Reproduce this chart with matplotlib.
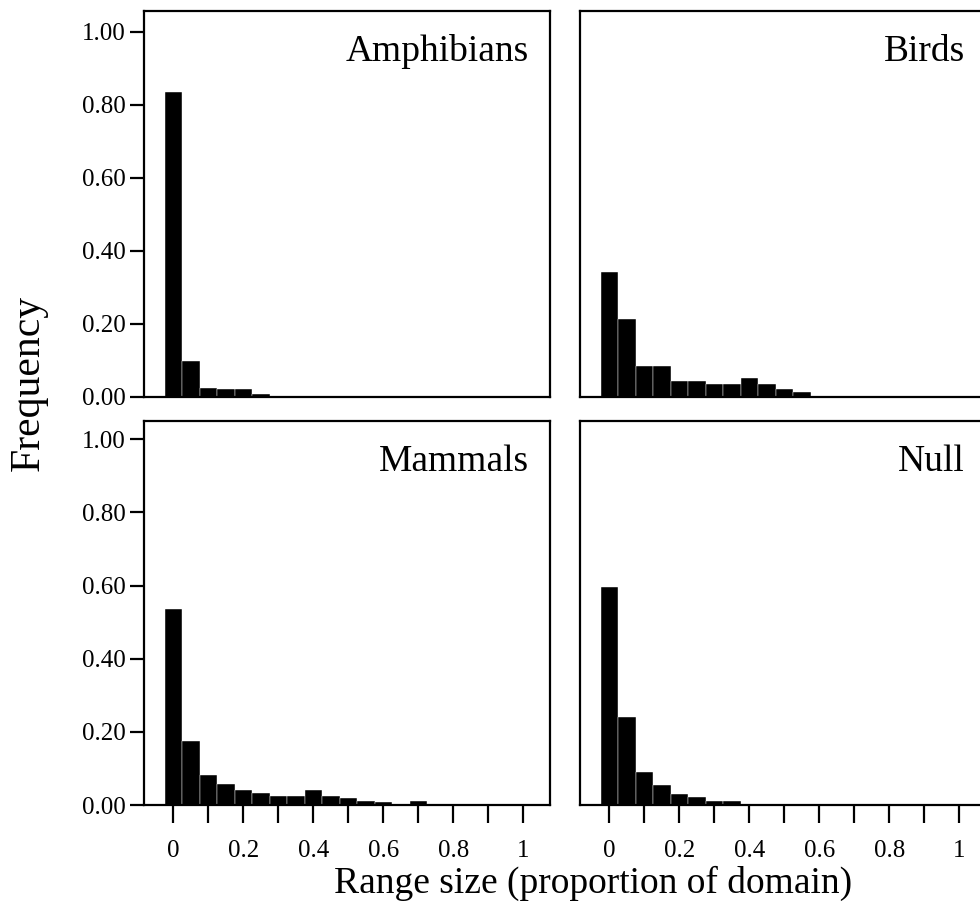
import numpy as np
import matplotlib
matplotlib.use("Agg")
import matplotlib.pyplot as plt

plt.rcParams['font.family'] = ['Liberation Serif', 'DejaVu Serif']

# bin centres (proportion of domain) and frequencies per group
centres = np.round(np.arange(0, 1.0001, 0.05), 2)
amphibians = [0.836, 0.099, 0.025, 0.021, 0.021, 0.009, 0.002, 0.002, 0.002, 0.002, 0.001,
              0.001, 0.001, 0.001, 0.001, 0.001, 0.001, 0.001, 0.001, 0.001, 0.001]
birds = [0.342, 0.213, 0.084, 0.084, 0.044, 0.044, 0.036, 0.036, 0.053, 0.035, 0.023,
         0.014, 0.004, 0.003, 0.002, 0.002, 0.002, 0.002, 0.002, 0.003, 0.002]
mammals = [0.535, 0.176, 0.081, 0.057, 0.041, 0.034, 0.026, 0.026, 0.041, 0.026, 0.018,
           0.011, 0.009, 0.004, 0.011, 0.004, 0.004, 0.003, 0.003, 0.003, 0.003]
null = [0.596, 0.240, 0.090, 0.054, 0.030, 0.021, 0.011, 0.010, 0.004, 0.004, 0.003,
        0.003, 0.003, 0.003, 0.003, 0.003, 0.003, 0.003, 0.003, 0.003, 0.003]

names = ["Amphibians", "Birds", "Mammals", "Null"]
series = [amphibians, birds, mammals, null]
yticks = [0, 0.2, 0.4, 0.6, 0.8, 1.0]
xticks = np.round(np.arange(0, 1.0001, 0.1), 1)
xlabels = ["0", "", "0.2", "", "0.4", "", "0.6", "", "0.8", "", "1"]

fig = plt.figure(figsize=(9.8, 9.08), dpi=100)

# panel boxes in figure fraction: left, bottom, width, height
boxes = [
    [0.1469, 0.5628, 0.4143, 0.4251],
    [0.5918, 0.5628, 0.4143, 0.4251],
    [0.1469, 0.1134, 0.4143, 0.4229],
    [0.5918, 0.1134, 0.4143, 0.4229],
]
ytops = [1.057, 1.057, 1.05, 1.05]

for k in range(4):
    ax = fig.add_axes(boxes[k])
    ax.bar(centres, series[k], width=0.05, color="black", edgecolor="white", linewidth=0.3)
    ax.set_xlim(-0.084, 1.076)
    ax.set_ylim(0, ytops[k])
    for s in ax.spines.values():
        s.set_linewidth(1.6)
    ax.text(0.948, 0.87, names[k], transform=ax.transAxes, ha="right", va="baseline",
            fontsize=27)

    # y axis only on the left column
    if k % 2 == 0:
        ax.set_yticks(yticks)
        ax.set_yticklabels(["%.2f" % v for v in yticks])
        ax.tick_params(axis="y", length=10, width=1.6, pad=3, labelsize=18)
    else:
        ax.set_yticks([])

    # x axis only on the bottom row
    if k >= 2:
        ax.set_xticks(xticks)
        ax.set_xticklabels(xlabels)
        ax.tick_params(axis="x", length=13, width=1.6, pad=12, labelsize=18)
    else:
        ax.set_xticks([])

fig.text(0.029, 0.578, "Frequency", rotation=90, ha="center", va="center", fontsize=30)
fig.text(0.605, 0.027, "Range size (proportion of domain)", ha="center", va="center",
         fontsize=27)

fig.savefig("out.png", dpi=100)
